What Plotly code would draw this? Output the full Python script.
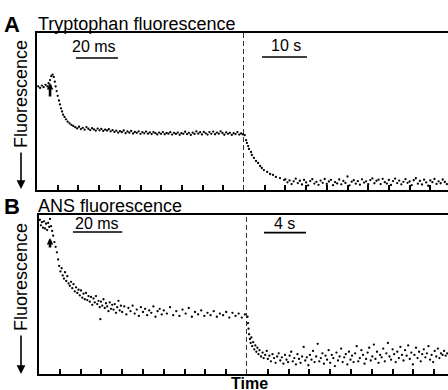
import plotly.graph_objects as go

# ---------------- data ----------------
# Panel A, tryptophan fluorescence, fast phase (time in ms, fluorescence a.u.)
a_fast_t = [0.6, 1.5, 2.4, 3.2, 4.1, 5.0, 5.6, 6.3, 6.9, 7.5, 8.1, 8.6,
            9.0, 9.5, 10.0, 10.6, 11.1, 11.6, 12.1, 12.6, 13.3, 14.0, 14.8, 15.7, 16.6, 17.5,
            18.5, 19.4, 20.3, 21.2, 22.1, 23.0, 23.9, 24.8, 25.7, 26.6, 27.5, 28.4, 29.3, 30.2,
            31.1, 32.0, 32.9, 33.8, 34.7, 35.6,
            36.5, 37.4, 38.3, 39.2, 40.1, 41.0, 41.9, 42.8, 43.7, 44.6, 45.5, 46.4, 47.3, 48.2,
            49.1, 50.0, 50.9, 51.8, 52.7, 53.6, 54.5, 55.4, 56.3, 57.2, 58.1, 59.0, 59.9, 60.8,
            61.7, 62.6, 63.5, 64.4, 65.3, 66.2, 67.1, 68.0, 68.9, 69.8, 70.7, 71.6, 72.5, 73.4,
            74.3, 75.2, 76.1, 77.0, 77.9, 78.8, 79.7, 80.6, 81.5, 82.4, 83.3, 84.2, 85.1, 86.0,
            86.9, 87.8, 88.7, 89.6, 90.5, 91.4, 92.3, 93.2, 94.1, 95.0, 95.9, 96.8, 97.7, 98.6, 99.5]
a_fast_f = [66, 65, 66.5, 65.5, 67, 66, 68, 70, 72.5, 73.5, 72, 69,
            66, 63, 60, 57, 54.5, 52, 50, 48, 46.5, 45, 43.5, 42.5, 41.5, 40.8,
            40, 39.2, 40.3, 38.8, 39.6, 38.4, 40.1, 39, 38.2, 39.4, 38.6, 37.8, 39.1, 38,
            38.9, 37.6, 38.5, 37.9, 38.7, 37.4,
            38.2, 37, 37.8, 36.6, 37.5, 36.8, 37.9, 36.2, 37.3, 36.5, 37.6, 36, 37, 36.4,
            37.4, 35.8, 36.9, 36.1, 37.2, 35.9, 36.7, 35.6, 36.8, 36.2, 35.4, 36.6, 35.8, 36.9,
            35.5, 36.3, 35.9, 36.8, 35.3, 36.4, 35.7, 36.6, 35.2, 36.2, 35.8, 37.1, 35.6, 36.4,
            35.1, 36.5, 35.7, 37.3, 35.9, 36.8, 35.4, 37, 36.1, 35.3, 36.9, 35.8, 37.2, 35.5,
            36.6, 35.9, 37.4, 36.3, 35.2, 36.7, 35.8, 36.4, 35.1, 36.2, 35.6, 36.9, 35.3, 36.0, 35.4]

# Panel A, slow phase (time in s)
a_slow_t = [0.2, 0.5, 0.7, 1.0, 1.2, 1.7, 1.9, 2.4, 2.9, 3.4, 3.9, 4.3, 4.8, 5.6, 6.3, 7.0,
            7.7, 8.7, 9.7,
            10.0, 10.5, 11.0, 11.5, 12.0, 12.5, 13.0, 13.5, 14.0, 14.5, 15.0, 15.5, 16.0, 16.5,
            17.0, 17.5, 18.0, 18.5, 19.0, 19.5, 20.0, 20.5, 21.0, 21.5, 22.0, 22.5, 23.0, 23.5,
            24.0, 24.5, 25.0, 25.5, 26.0, 26.5, 27.0, 27.5, 28.0, 28.5, 29.0, 29.5, 30.0, 30.5,
            31.0, 31.5, 32.0, 32.5, 33.0, 33.5, 34.0, 34.5, 35.0, 35.5, 36.0, 36.5, 37.0, 37.5,
            38.0, 38.5, 39.0, 39.5, 40.0, 40.5, 41.0, 41.5, 42.0, 42.5, 43.0, 43.5, 44.0, 44.5,
            45.0, 45.5, 46.0, 46.5, 47.0, 47.5, 48.0, 48.5, 49.0]
a_slow_f = [35, 31.8, 30, 28, 26.1, 24.2, 22.3, 20.4, 18.5, 17.2, 15.3, 14, 12.7, 11.5, 10.2, 9.6,
            8.3, 7.6, 6.4,
            6.8, 4.9, 6.1, 3.8, 5.5, 7.2, 4.4, 5.9, 3.5, 6.4, 4.8, 2.9, 5.7, 6.9,
            4.1, 5.2, 3.3, 6.0, 4.6, 7.0, 3.9, 5.4, 6.5, 3.1, 5.0, 4.2, 6.7, 3.6,
            5.8, 4.5, 8.6, 3.0, 5.3, 6.2, 4.0, 5.6, 3.4, 6.8, 4.7, 5.5, 3.7, 6.3,
            7.4, 4.3, 5.9, 6.6, 3.8, 7.1, 5.0, 4.1, 6.4, 3.2, 5.7, 7.3, 4.4, 6.0,
            3.6, 5.2, 6.9, 4.6, 5.4, 3.1, 6.2, 7.5, 4.0, 5.8, 3.5, 6.6, 4.8, 2.7,
            6.1, 5.0, 7.0, 3.9, 5.5, 4.3, 6.7, 5.1, 3.8]

# Panel B, ANS fluorescence, fast phase (time in ms)
b_fast_t = [0.4, 0.9, 1.4, 1.9, 2.4, 2.9, 3.4, 3.9, 4.4, 4.9, 5.3, 5.8, 6.3, 6.8,
            7.4, 8.0, 8.6, 9.2, 9.7, 10.3, 10.9, 11.4, 12.0, 12.5, 13.1, 13.6, 14.2, 14.8,
            15.4, 16.0, 16.6, 17.2, 17.8, 18.4, 19.0, 19.6, 20.2, 20.8, 21.4, 22.0, 22.6, 23.2,
            23.8, 24.4, 25.0, 25.6, 26.2, 26.8, 27.4, 28.0, 28.6, 29.2, 29.5, 29.8, 30.4, 31.0,
            31.6, 32.2, 32.8, 33.4, 34.0, 34.6, 35.2, 35.8, 36.4, 37.0, 37.6, 38.2, 38.8, 39.4,
            40.0, 41.0, 42.0, 43.0, 44.0, 45.0, 46.0, 47.0, 48.0, 49.0, 50.0, 51.0, 52.0, 53.0,
            54.0, 55.0, 56.0, 57.0, 58.0, 59.0, 60.0, 61.5, 63.0, 64.5, 66.0, 67.5, 69.0, 70.5,
            72.0, 73.5, 75.0, 76.5, 78.0, 79.5, 81.0, 82.5, 84.0, 85.5, 87.0, 88.5, 90.0, 91.5,
            93.0, 94.5, 96.0, 97.5, 99.0]
b_fast_f = [97, 93.5, 95.5, 92, 96, 91.5, 94.5, 90.5, 95, 92.5, 97.5, 93, 90, 87,
            83, 80, 76.5, 72, 68, 64.5, 66.5, 62, 60, 64, 58.5, 61.5, 57, 55.5,
            58, 54, 56.5, 52, 54.5, 51, 53, 49.5, 52.5, 48, 50.5, 47, 51, 46.5,
            49, 45.5, 48.5, 43.5, 47.5, 45, 49, 44, 46, 42, 34.5, 45.5, 43, 47,
            41.5, 44.5, 42.5, 39.5, 45, 41, 43.5, 40.5, 44, 38.5, 42, 46, 40, 43,
            39, 42.5, 37.5, 41.5, 39.5, 43, 38, 40.5, 36.5, 42, 39, 41, 37, 40,
            38.5, 42.5, 36, 39.5, 41, 37.5, 40, 38, 42, 37, 39.5, 36.5, 40.5, 38,
            41.5, 36, 39, 37.5, 40, 36.5, 38.5, 37, 39.5, 36, 38, 37, 39, 35.5,
            38.5, 36.5, 38, 35.5, 37.5]

# Panel B, slow phase (time in s)
b_slow_t = [0.05, 0.1, 0.15, 0.2, 0.28, 0.35, 0.42, 0.5, 0.6, 0.7, 0.8, 0.9, 1.0, 1.1, 1.2,
            1.35, 1.5, 1.6, 1.75, 1.9, 2.0, 2.15, 2.3, 2.45, 2.6, 2.75, 2.9, 3.05, 3.2, 3.35,
            3.5, 3.65, 3.8, 3.95, 4.1, 4.25, 4.4, 4.55, 4.7, 4.85, 5.0, 5.15, 5.3, 5.45, 5.6,
            5.75, 5.9, 6.05, 6.2, 6.35, 6.5, 6.65, 6.8, 6.95, 7.1, 7.25, 7.4, 7.55, 7.7, 7.85,
            8.0, 8.15, 8.3, 8.45, 8.6, 8.75, 8.9, 9.05, 9.2, 9.35, 9.5, 9.65, 9.8, 9.95, 10.1,
            10.25, 10.4, 10.55, 10.7, 10.85, 11.0, 11.15, 11.3, 11.45, 11.6, 11.75, 11.9, 12.05,
            12.2, 12.35, 12.5, 12.65, 12.8, 12.95, 13.1, 13.25, 13.4, 13.55, 13.7, 13.85, 14.0,
            14.15, 14.3, 14.45, 14.6, 14.75, 14.9, 15.05, 15.2, 15.35, 15.5, 15.65, 15.8, 15.95,
            16.1, 16.25, 16.4, 16.55, 16.7, 16.85, 17.0, 17.15, 17.3, 17.45, 17.6, 17.75, 17.9,
            18.05, 18.2, 18.35, 18.5, 18.65, 18.8, 18.95, 19.1, 19.25]
b_slow_f = [36, 32, 28.5, 25, 22, 19.5, 23, 17.5, 20, 15.5, 18, 14, 16.5, 12.5, 15,
            11, 13.5, 10, 12, 14.5, 9.5, 11.5, 8, 12.5, 10, 7, 11, 13, 8.5, 10.5,
            6.5, 12, 9, 7.5, 11.5, 14, 8, 10, 6, 12.5, 9.5, 7, 11, 17, 8.5,
            10.5, 5.5, 12, 9, 14.5, 7.5, 11, 19, 8, 10, 13, 6.5, 11.5, 9, 15,
            7, 12, 10, 5, 13.5, 8.5, 11, 16, 7.5, 10.5, 12.5, 6, 14, 9, 11.5,
            7.5, 13, 17.5, 8, 10, 15, 12, 6.5, 9.5, 13.5, 16.5, 8.5, 11,
            18.5, 9.5, 14, 7, 12, 10.5, 16, 8, 13, 19.5, 11, 9, 15.5,
            12.5, 7.5, 14, 10, 17, 12, 8.5, 15, 11.5, 18, 9.5, 13.5, 6,
            12, 16.5, 10, 14, 8, 12.5, 15.5, 10.5, 13, 17.5, 9, 12, 7.5,
            14.5, 11, 16, 10, 13, 12, 14.5, 11.5, 13]

panel_titles = ["Tryptophan fluorescence", "ANS fluorescence"]
panel_letters = ["A", "B"]
scale_labels = ["20 ms", "10 s", "20 ms", "4 s"]

# ---------------- layout geometry ----------------
W, H = 448, 390
L, R, T, B = 37, 0, 33, 16
PW, PH = W - L - R, H - T - B
FONT = "Liberation Sans, Arial, Helvetica, sans-serif"


def fx(px):
    return (px - L) / PW


def fy(py):
    return (H - B - py) / PH


mk = dict(size=2.3, color="black")
fig = go.Figure()
fig.add_trace(go.Scatter(x=a_fast_t, y=a_fast_f, mode="markers", marker=mk, xaxis="x", yaxis="y"))
fig.add_trace(go.Scatter(x=a_slow_t, y=a_slow_f, mode="markers", marker=mk, xaxis="x2", yaxis="y"))
fig.add_trace(go.Scatter(x=b_fast_t, y=b_fast_f, mode="markers", marker=mk, xaxis="x3", yaxis="y3"))
fig.add_trace(go.Scatter(x=b_slow_t, y=b_slow_f, mode="markers", marker=mk, xaxis="x4", yaxis="y3"))

xcommon = dict(showgrid=False, zeroline=False, showticklabels=False, ticks="inside",
               ticklen=5, tickwidth=1.5, tickcolor="black", showline=True, mirror=True,
               linecolor="black", linewidth=1.5, fixedrange=True)
ycommon = dict(showgrid=False, zeroline=False, showticklabels=False, ticks="",
               showline=True, linecolor="black", linewidth=1.5, range=[0, 100], fixedrange=True)

fig.update_layout(
    width=W, height=H, margin=dict(l=L, r=R, t=T, b=B, pad=0),
    paper_bgcolor="white", plot_bgcolor="white", showlegend=False,
    font=dict(family=FONT, color="black"),
    xaxis=dict(xcommon, domain=[fx(37), fx(244)], range=[0, 100], anchor="y",
               tickvals=[10, 20, 30, 40, 50, 60, 70, 80, 90]),
    xaxis2=dict(xcommon, domain=[fx(244), 1], range=[0, (448 - 244) / 4.14], anchor="y",
                tickvals=[5, 10, 15, 20, 25, 30, 35, 40, 45]),
    yaxis=dict(ycommon, domain=[fy(190), fy(33)], anchor="x"),
    xaxis3=dict(xcommon, domain=[fx(39), fx(247)], range=[0, 100], anchor="y3",
                tickvals=[10, 20, 30, 40, 50, 60, 70, 80, 90]),
    xaxis4=dict(xcommon, domain=[fx(247), 1], range=[0, (448 - 247) / 10.4], anchor="y3",
                tickvals=[2, 4, 6, 8, 10, 12, 14, 16, 18]),
    yaxis3=dict(ycommon, domain=[fy(374), fy(215)], anchor="x3"),
)

shapes = []
# dashed boundaries between fast and slow phases
for xr, yr in [("x", "y domain"), ("x3", "y3 domain")]:
    shapes.append(dict(type="line", xref=xr, yref=yr, x0=100, x1=100, y0=0, y1=1,
                       line=dict(color="black", width=1.6, dash="5px,3px")))
# scale bars
bars = [("x", "y", 18.8, 39.1, 84.1), ("x2", "y", 4.35, 15.2, 84.7),
        ("x3", "y3", 16.3, 40.0, 89.3), ("x4", "y3", 1.63, 5.67, 88.9)]
for xr, yr, x0, x1, yv in bars:
    shapes.append(dict(type="line", xref=xr, yref=yr, x0=x0, x1=x1, y0=yv, y1=yv,
                       line=dict(color="black", width=1.6)))
fig.update_layout(shapes=shapes)

ann = []
# scale bar labels
for (xr, yr, xv, yv), txt in zip([("x", "y", 27.5, 91.5), ("x2", "y", 10.1, 91.8),
                                   ("x3", "y3", 28.0, 94.5), ("x4", "y3", 3.6, 94.5)], scale_labels):
    ann.append(dict(xref=xr, yref=yr, x=xv, y=yv, text=txt, showarrow=False,
                    font=dict(size=16), xanchor="center", yanchor="middle"))
# panel letters and titles
for letter, title, py in zip(panel_letters, panel_titles, [24, 206]):
    ann.append(dict(xref="paper", yref="paper", x=fx(12), y=fy(py), text="<b>%s</b>" % letter,
                    showarrow=False, font=dict(size=22), xanchor="center", yanchor="middle"))
    ann.append(dict(xref="paper", yref="paper", x=fx(36), y=fy(py), text=title,
                    showarrow=False, font=dict(size=18), xanchor="left", yanchor="middle"))
# y labels with arrows
for pc, tail, tip in [(94, 151, 189), (277, 334, 374)]:
    ann.append(dict(xref="paper", yref="paper", x=fx(21), y=fy(pc), text="Fluorescence",
                    textangle=-90, showarrow=False, font=dict(size=18),
                    xanchor="center", yanchor="middle"))
    ann.append(dict(xref="paper", yref="paper", x=fx(21), y=fy(tip), text="", showarrow=True,
                    axref="pixel", ayref="pixel", ax=0, ay=-(tip - tail), arrowhead=2,
                    arrowsize=1.1, arrowwidth=1.6, arrowcolor="black", standoff=0))
# small arrows marking mixing time
for xr, yr, xv, yv, ln in [("x", "y", 6.3, 68.2, 15), ("x3", "y3", 5.3, 85.5, 11)]:
    ann.append(dict(xref=xr, yref=yr, x=xv, y=yv, text="", showarrow=True, ax=0, ay=ln,
                    arrowhead=2, arrowsize=0.5, arrowwidth=2.6, arrowcolor="black", standoff=0))
# x label
ann.append(dict(xref="paper", yref="paper", x=fx(249), y=fy(383), text="<b>Time</b>",
                showarrow=False, font=dict(size=16), xanchor="center", yanchor="middle"))
fig.update_layout(annotations=ann)

fig.write_html("out.html", config=dict(displayModeBar=False),
               post_script="document.body.style.margin='0';document.body.style.overflow='hidden';")
